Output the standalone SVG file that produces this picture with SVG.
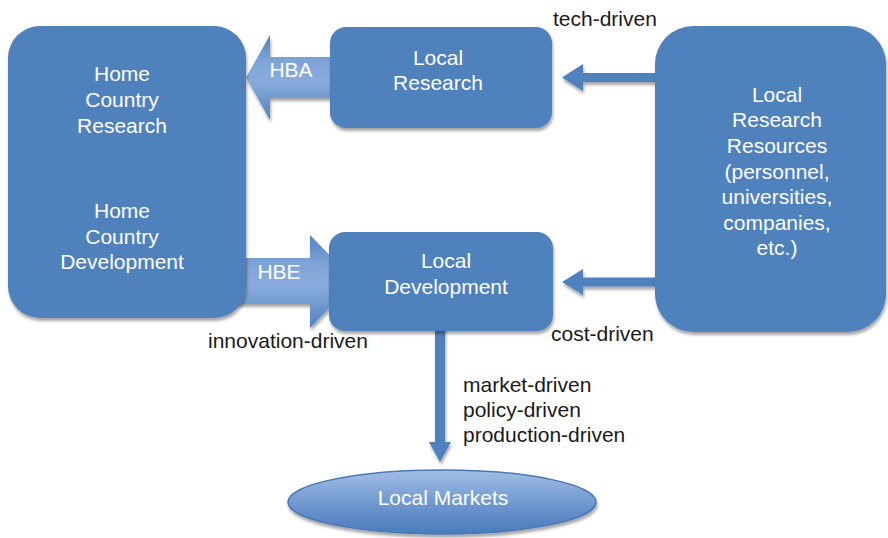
<svg xmlns="http://www.w3.org/2000/svg" width="888" height="538" viewBox="0 0 888 538">
<defs>
<filter id="sh" x="-10%" y="-10%" width="130%" height="130%">
<feDropShadow dx="1" dy="3" stdDeviation="1.6" flood-color="#000" flood-opacity="0.35"/>
</filter>
<linearGradient id="fat" x1="0" y1="0" x2="0" y2="1">
<stop offset="0" stop-color="#4f81bd"/>
<stop offset="0.3" stop-color="#7ea3d6"/>
<stop offset="0.55" stop-color="#8aacdc"/>
<stop offset="1" stop-color="#4f81bd"/>
</linearGradient>
<linearGradient id="ell" x1="0" y1="0" x2="0" y2="1">
<stop offset="0" stop-color="#a3bee4"/>
<stop offset="0.5" stop-color="#7199d1"/>
<stop offset="1" stop-color="#4a7bbb"/>
</linearGradient>
<style>
.box{fill:#4f81bd;filter:url(#sh)}
.fat{fill:url(#fat);filter:url(#sh)}
.thin{fill:#4f81bd;filter:url(#sh)}
.w{font-family:"Liberation Sans",Arial,sans-serif;font-size:21px;fill:#fff;text-anchor:middle}
.lbl{font-family:"Liberation Sans",Arial,sans-serif;font-size:21px;fill:#1a1a1a}
</style>
</defs>
<rect width="888" height="538" fill="#fff"/>
<g id="connectors">
<path class="fat" d="M246,77.5 L270,35 L270,57 L336,57 L336,98 L270,98 L270,120 Z"/>
<text class="w" x="291" y="77">HBA</text>
<path class="fat" d="M236,258 L310,258 L310,235 L355,281.5 L310,328 L310,304 L236,304 Z"/>
<text class="w" x="279" y="279">HBE</text>
<path class="thin" d="M562,77.5 L583,64 L583,73 L658,73 L658,82 L583,82 L583,91 Z"/>
<path class="thin" d="M562,282 L583,269 L583,277.5 L658,277.5 L658,286.5 L583,286.5 L583,295 Z"/>
<path class="thin" d="M435,325 L445,325 L445,442 L451,442 L440,462 L429,442 L435,442 Z"/>
<text class="lbl" x="553" y="26">tech-driven</text>
<text class="lbl" x="551" y="341">cost-driven</text>
<text class="lbl" x="208" y="348">innovation-driven</text>
<text class="lbl" x="463" y="392">market-driven</text>
<text class="lbl" x="463" y="417">policy-driven</text>
<text class="lbl" x="463" y="442">production-driven</text>
</g>
<g id="home">
<rect class="box" x="8" y="26" width="238" height="292" rx="32"/>
<text class="w" x="122" y="81">Home</text>
<text class="w" x="122" y="107">Country</text>
<text class="w" x="122" y="133">Research</text>
<text class="w" x="122" y="218">Home</text>
<text class="w" x="122" y="244">Country</text>
<text class="w" x="122" y="269">Development</text>
</g>
<g id="local-research">
<rect class="box" x="330" y="27" width="222" height="101" rx="16"/>
<text class="w" x="438" y="65">Local</text>
<text class="w" x="438" y="90">Research</text>
</g>
<g id="local-development">
<rect class="box" x="329" y="232" width="224" height="99" rx="16"/>
<text class="w" x="446" y="268">Local</text>
<text class="w" x="446" y="294">Development</text>
</g>
<g id="resources">
<rect class="box" x="655" y="26" width="231" height="306" rx="38"/>
<text class="w" x="777" y="102">Local</text>
<text class="w" x="777" y="127">Research</text>
<text class="w" x="777" y="153">Resources</text>
<text class="w" x="777" y="179">(personnel,</text>
<text class="w" x="777" y="204">universities,</text>
<text class="w" x="777" y="230">companies,</text>
<text class="w" x="777" y="255">etc.)</text>
</g>
<g id="local-markets">
<ellipse cx="442" cy="502" rx="154" ry="32" fill="url(#ell)" stroke="#4a78b6" stroke-width="1.5" filter="url(#sh)"/>
<text class="w" x="443" y="505">Local Markets</text>
</g>
</svg>
